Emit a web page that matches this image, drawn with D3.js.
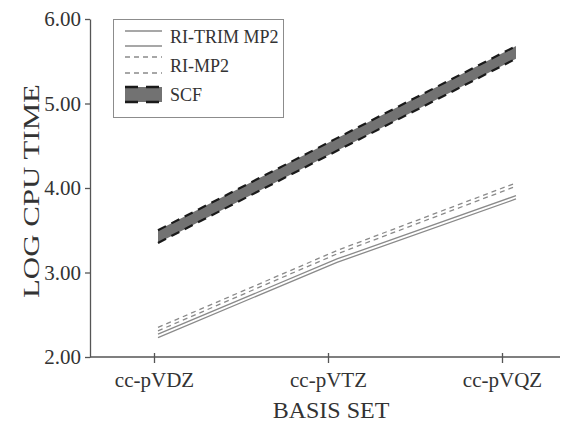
<!DOCTYPE html>
<html><head><meta charset="utf-8">
<script src="https://cdn.jsdelivr.net/npm/d3@7"></script>
<style>html,body{margin:0;padding:0;background:#fff;}svg{display:block;}</style>
</head><body>
<svg id="c" width="563" height="422"></svg>
<script>
const categories = ["cc-pVDZ", "cc-pVTZ", "cc-pVQZ"];
const yTicks = [2, 3, 4, 5, 6];
const seriesNames = ["RI-TRIM MP2", "RI-MP2", "SCF"];
const trimLow  = [2.23, 3.12, 3.87];
const trimHigh = [2.27, 3.16, 3.91];
const riLow    = [2.31, 3.22, 4.02];
const riHigh   = [2.35, 3.26, 4.06];
const scfLow   = [3.35, 4.44, 5.53];
const scfHigh  = [3.50, 4.59, 5.68];

const svg = d3.select("#c");
const font = "'Liberation Serif','Times New Roman',serif";
const ink = "#333";

const y = d3.scaleLinear().domain([2, 6]).range([357, 19]);
const xAxisScale = d3.scalePoint().domain(categories).range([154, 502]);
const xLine = d3.scaleLinear().domain([0, 2]).range([158, 516]);

// axes
const gy = svg.append("g").attr("transform", "translate(90,0)")
  .call(d3.axisLeft(y).tickValues(yTicks).tickFormat(d3.format(".2f")).tickSize(5).tickSizeOuter(0));
const gx = svg.append("g").attr("transform", "translate(0,357)")
  .call(d3.axisBottom(xAxisScale).tickSize(0));
gx.select(".domain").attr("d", "M90,0H560");
gx.selectAll(".tick line").attr("y1", -4).attr("y2", 6);
[gx, gy].forEach(g => {
  g.attr("font-family", font);
  g.select(".domain").attr("stroke", "#555").attr("stroke-width", 1.3);
  g.selectAll(".tick line").attr("stroke", "#555").attr("stroke-width", 1.3);
  g.selectAll("text").attr("fill", ink).style("font-family", font).style("font-size", "21px");
});
gy.selectAll("text").attr("x", -9);
gx.selectAll("text").attr("y", 15);

// titles
svg.append("text").attr("x", 331).attr("y", 418).attr("text-anchor", "middle")
  .style("font-family", font).style("font-size", "24px").attr("fill", ink).text("BASIS SET");
svg.append("text").attr("transform", "translate(39,191) rotate(-90)").attr("text-anchor", "middle")
  .style("font-family", font).style("font-size", "23px").attr("fill", ink)
  .attr("textLength", 214).attr("lengthAdjust", "spacingAndGlyphs").text("LOG CPU TIME");

// bands
function band(lo, hi, style) {
  const idx = d3.range(lo.length);
  const area = d3.area().x(i => xLine(i)).y0(i => y(lo[i])).y1(i => y(hi[i]));
  const lineLo = d3.line().x(i => xLine(i)).y(i => y(lo[i]));
  const lineHi = d3.line().x(i => xLine(i)).y(i => y(hi[i]));
  svg.append("path").attr("d", area(idx)).attr("fill", style.fill).attr("stroke", "none");
  [lineLo, lineHi].forEach(l => svg.append("path").attr("d", l(idx)).attr("fill", "none")
    .attr("stroke", style.stroke).attr("stroke-width", style.sw)
    .attr("stroke-dasharray", style.dash || null));
}
const styles = [
  {fill: "#fff", stroke: "#8a8a8a", sw: 1.3},
  {fill: "#fff", stroke: "#8a8a8a", sw: 1.3, dash: "5,4"},
  {fill: "#727272", stroke: "#1a1a1a", sw: 2.2, dash: "9,6"}
];
band(trimLow, trimHigh, styles[0]);
band(riLow, riHigh, styles[1]);
band(scfLow, scfHigh, styles[2]);

// legend
const lg = svg.append("g");
lg.append("rect").attr("x", 113.5).attr("y", 19.5).attr("width", 170).attr("height", 98)
  .attr("fill", "#fff").attr("stroke", "#8c8c8c").attr("stroke-width", 1);
const rows = [{y0: 31, y1: 46, ty: 37}, {y0: 57, y1: 73, ty: 66}, {y0: 87, y1: 102, ty: 95}];
seriesNames.forEach((name, i) => {
  const r = rows[i], s = styles[i];
  lg.append("rect").attr("x", 125).attr("y", r.y0).attr("width", 37).attr("height", r.y1 - r.y0)
    .attr("fill", s.fill).attr("stroke", "none");
  [r.y0, r.y1].forEach(yy => lg.append("line").attr("x1", 125).attr("x2", 162).attr("y1", yy).attr("y2", yy)
    .attr("stroke", s.stroke).attr("stroke-width", i === 2 ? 2.4 : 1.6)
    .attr("stroke-dasharray", i === 2 ? "13,8" : (s.dash || null)));
  lg.append("text").attr("x", 170).attr("y", r.ty).attr("dy", "0.35em")
    .style("font-family", font).style("font-size", "18px").attr("fill", ink).text(name);
});
</script>
</body></html>
